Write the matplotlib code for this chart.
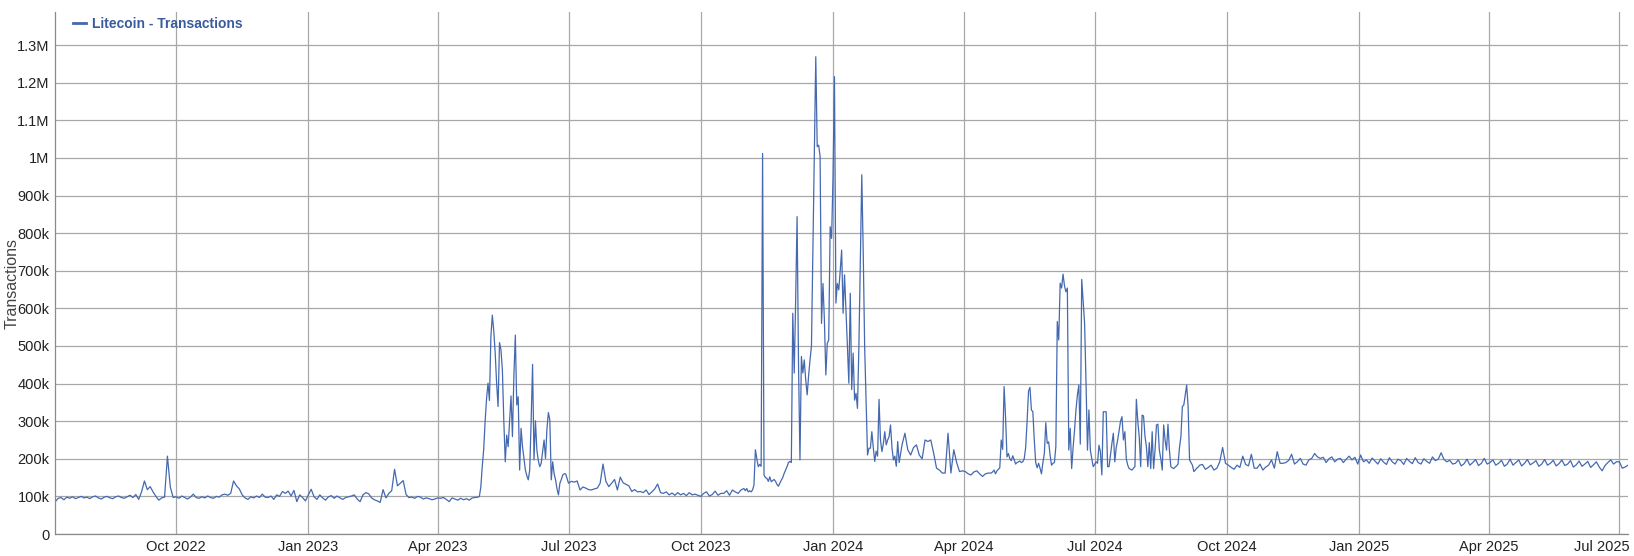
import matplotlib
matplotlib.use("Agg")
import matplotlib.pyplot as plt
import matplotlib.dates as mdates
import matplotlib.transforms as mtransforms
from matplotlib.ticker import FuncFormatter, MultipleLocator
import numpy as np
import pandas as pd

plt.rcParams['font.family'] = ['Liberation Sans', 'DejaVu Sans']

# daily Litecoin transactions, in thousands in segments
# (start date, step in days, values)
jul22_apr23 = [86, 95, 97, 91, 98, 95, 99, 94, 97, 100, 96, 98, 94, 99, 101, 96, 93, 98, 100, 96,
               94, 99, 101, 97, 95, 99, 103, 97, 105, 92,
               112, 141, 118, 126, 112, 100, 90, 96, 98, 207, 125, 97,
               99, 95, 101, 97, 93, 98, 106, 97, 95, 99, 96, 101, 97, 95, 100, 98, 104, 106, 103,
               108, 141, 128, 120, 104, 96, 92,
               99, 96, 101, 97, 106, 98, 97, 101, 92, 104, 100, 113, 108, 114, 101, 116, 86, 104, 97, 88,
               104, 119, 99, 92, 104, 96, 90, 99, 102, 95, 101, 96, 92, 97, 99, 101, 104, 93, 86, 104,
               110, 107, 96, 91, 88, 84, 118, 96, 108, 115, 172, 128, 135, 142, 105, 97, 98, 95, 100, 98,
               93, 96, 94, 91, 93, 96, 95, 97, 92, 86, 96, 93, 90, 95, 91, 94, 90, 96, 97, 98]
may23_jun23 = [100, 125, 180, 225, 300, 360, 401, 355, 525, 582, 540, 481, 400, 339, 509, 490, 436, 300, 192, 263,
               232, 300, 367, 259, 420, 529, 343, 365, 170, 281, 232, 200, 170, 155, 144, 170, 300, 451, 197, 301,
               223, 195, 179, 188, 220, 250, 201, 280, 323, 303, 144, 192, 160, 144, 120, 104, 135, 145, 157, 160]
jul23_oct23 = [160, 135, 140, 138, 141, 117, 125, 122, 118, 117, 120, 122, 135, 186, 140, 126, 135, 145, 117, 151,
               136, 132, 128, 113, 118, 112, 113, 110, 117, 105, 112, 120, 133, 110, 108, 112, 104, 109, 103, 110,
               104, 108, 102, 110, 104, 106, 103, 100, 108, 112, 101, 105, 114, 103, 108, 108, 115, 103, 117, 112,
               108, 117, 121]
nov23_feb24 = [115, 121, 112, 115, 112, 117, 130, 224, 200, 179, 185, 180, 1012, 157, 150, 148, 140, 152, 139, 142,
               145, 140, 132, 127, 135, 143, 150, 161, 170, 179, 190, 193, 190, 587, 428, 620, 844, 450, 197, 472,
               428, 463, 410, 370, 420, 463, 500, 760, 1020, 1269, 1030, 1034, 1004, 560, 666, 569, 423, 507, 516, 817,
               786, 950, 1216, 614, 666, 649, 700, 755, 587, 689, 596, 500, 401, 640, 384, 481, 356, 374, 334, 500,
               720, 955, 750, 498, 350, 210, 228, 228, 272, 230, 193, 220, 207, 358, 250, 219, 240, 272, 237, 250,
               259, 290, 230, 197, 207, 180, 246]
feb24_apr24 = [190, 237, 268, 224, 210, 230, 237, 210, 200, 250, 246, 250, 215, 175, 170, 162, 162, 268, 162, 224,
               190, 166, 168, 166, 160, 157, 165, 168, 160, 153, 160, 162, 162]
apr24_sep24 = [165, 170, 160, 168, 172, 176, 250, 225, 392, 312, 205, 214, 200, 195, 208, 198, 186, 190, 192, 194,
               190, 192, 200, 230, 300, 380, 390, 330, 325, 250, 190, 176, 188, 175, 160, 190, 214, 296, 241, 245,
               210, 183, 188, 190, 232, 565, 516, 667, 654, 691, 660, 644, 654, 223, 281, 174, 230, 276, 330, 370,
               396, 239, 677, 620, 560, 400, 223, 330, 223, 200, 179, 185, 192, 188, 236, 219, 157, 325, 325, 325,
               179, 179, 210, 241, 268, 192, 230, 250, 276, 300, 312, 250, 272, 200, 183, 174, 172, 170, 175, 179,
               358, 300, 259, 179, 316, 314, 260, 232, 179, 243, 174, 272, 174, 223, 290, 292, 223, 200, 170, 290,
               250, 223, 292, 223, 179, 176, 174, 178, 181, 186, 230, 259, 339, 343, 370, 396, 339, 197, 190, 183,
               166, 170, 175, 178]
sep24_jul25 = [183, 185, 172, 177, 183, 170, 175, 192, 230, 188, 183, 177, 172, 183, 177, 207, 185, 181, 212, 175,
               175, 186, 170, 178, 183, 197, 175, 219, 188, 188, 190, 196, 212, 186, 192, 201, 186, 183, 197, 201,
               214, 205, 201, 204, 190, 200, 205, 192, 199, 201, 190, 199, 207, 197, 204, 186, 210, 192,
               197, 188, 202, 194, 186, 200, 191, 185, 203, 192, 186, 199, 195, 185, 201, 193, 187, 203, 190, 186,
               200, 193, 188, 205, 195, 199, 216, 198, 192, 196, 186, 188, 197, 181, 187, 199, 183, 190, 198, 182,
               188, 201, 186, 190, 197, 183, 188, 196, 180, 186, 199, 183, 190, 197, 181, 188, 198, 184, 189, 195,
               180, 186, 198, 183, 188, 196, 181, 187, 197, 182, 186, 195, 178, 184, 194, 180, 186, 193, 177, 184,
               192, 178, 168, 182, 190, 197, 186, 192, 192, 175, 178, 183]

segments = [("2022-07-09", 2, jul22_apr23), ("2023-04-30", 1, may23_jun23),
            ("2023-06-29", 2, jul23_oct23), ("2023-11-01", 1, nov23_feb24),
            ("2024-02-16", 2, feb24_apr24), ("2024-04-21", 1, apr24_sep24),
            ("2024-09-12", 2, sep24_jul25)]

dates = []
values = []
for start, step, vals in segments:
    dates.extend(pd.date_range(start, periods=len(vals), freq=f"{step}D"))
    values.extend(v * 1000 for v in vals)

fig = plt.figure(figsize=(16.34, 5.56), dpi=100)
ax = fig.add_axes([55.3 / 1634, 22 / 556, (1628 - 55.3) / 1634, (534 - 12) / 556])

line_color = "#4469b0"
ax.plot(dates, values, color=line_color, lw=0.9, label="Litecoin - Transactions")

ax.set_xlim(pd.Timestamp("2022-07-09"), pd.Timestamp("2025-07-07"))
ax.set_ylim(0, 1388000)
ax.yaxis.set_major_locator(MultipleLocator(100000))


def fmt(v, pos):
    if v == 0:
        return "0"
    if v < 1e6:
        return f"{v / 1000:.0f}k"
    return f"{v / 1e6:g}M"


ax.yaxis.set_major_formatter(FuncFormatter(fmt))
ax.xaxis.set_major_locator(mdates.MonthLocator(bymonth=[1, 4, 7, 10]))
ax.xaxis.set_major_formatter(mdates.DateFormatter("%b %Y"))

ax.grid(True, color="#a8a8a8", lw=0.9)
ax.set_axisbelow(True)
ax.tick_params(length=0, labelsize=10.5, colors="#222222", pad=4)
for s in ["top", "right"]:
    ax.spines[s].set_visible(False)
for s in ["left", "bottom"]:
    ax.spines[s].set_color("#8a8a8a")
    ax.spines[s].set_linewidth(0.9)

# last date label is pushed inside the figure, as in the original
fig.canvas.draw()
last = ax.get_xticklabels()[-1]
last.set_horizontalalignment("right")
last.set_transform(last.get_transform() + mtransforms.ScaledTranslation(0.1, 0, fig.dpi_scale_trans))

fig.text(12 / 1634, 1 - 283 / 556, "Transactions", rotation=90, ha="center", va="center",
         fontsize=11.5, color="#444444")

leg = ax.legend(loc="center left", bbox_to_anchor=(73 / 1634, 1 - 24 / 556),
                bbox_transform=fig.transFigure, frameon=False, handlelength=0.9,
                handletextpad=0.5, borderaxespad=0, borderpad=0,
                prop={"weight": "bold", "size": 10})
for t in leg.get_texts():
    t.set_color("#3a5c9e")
for h in leg.get_lines():
    h.set_linewidth(2)

fig.savefig("out.png", dpi=100)
